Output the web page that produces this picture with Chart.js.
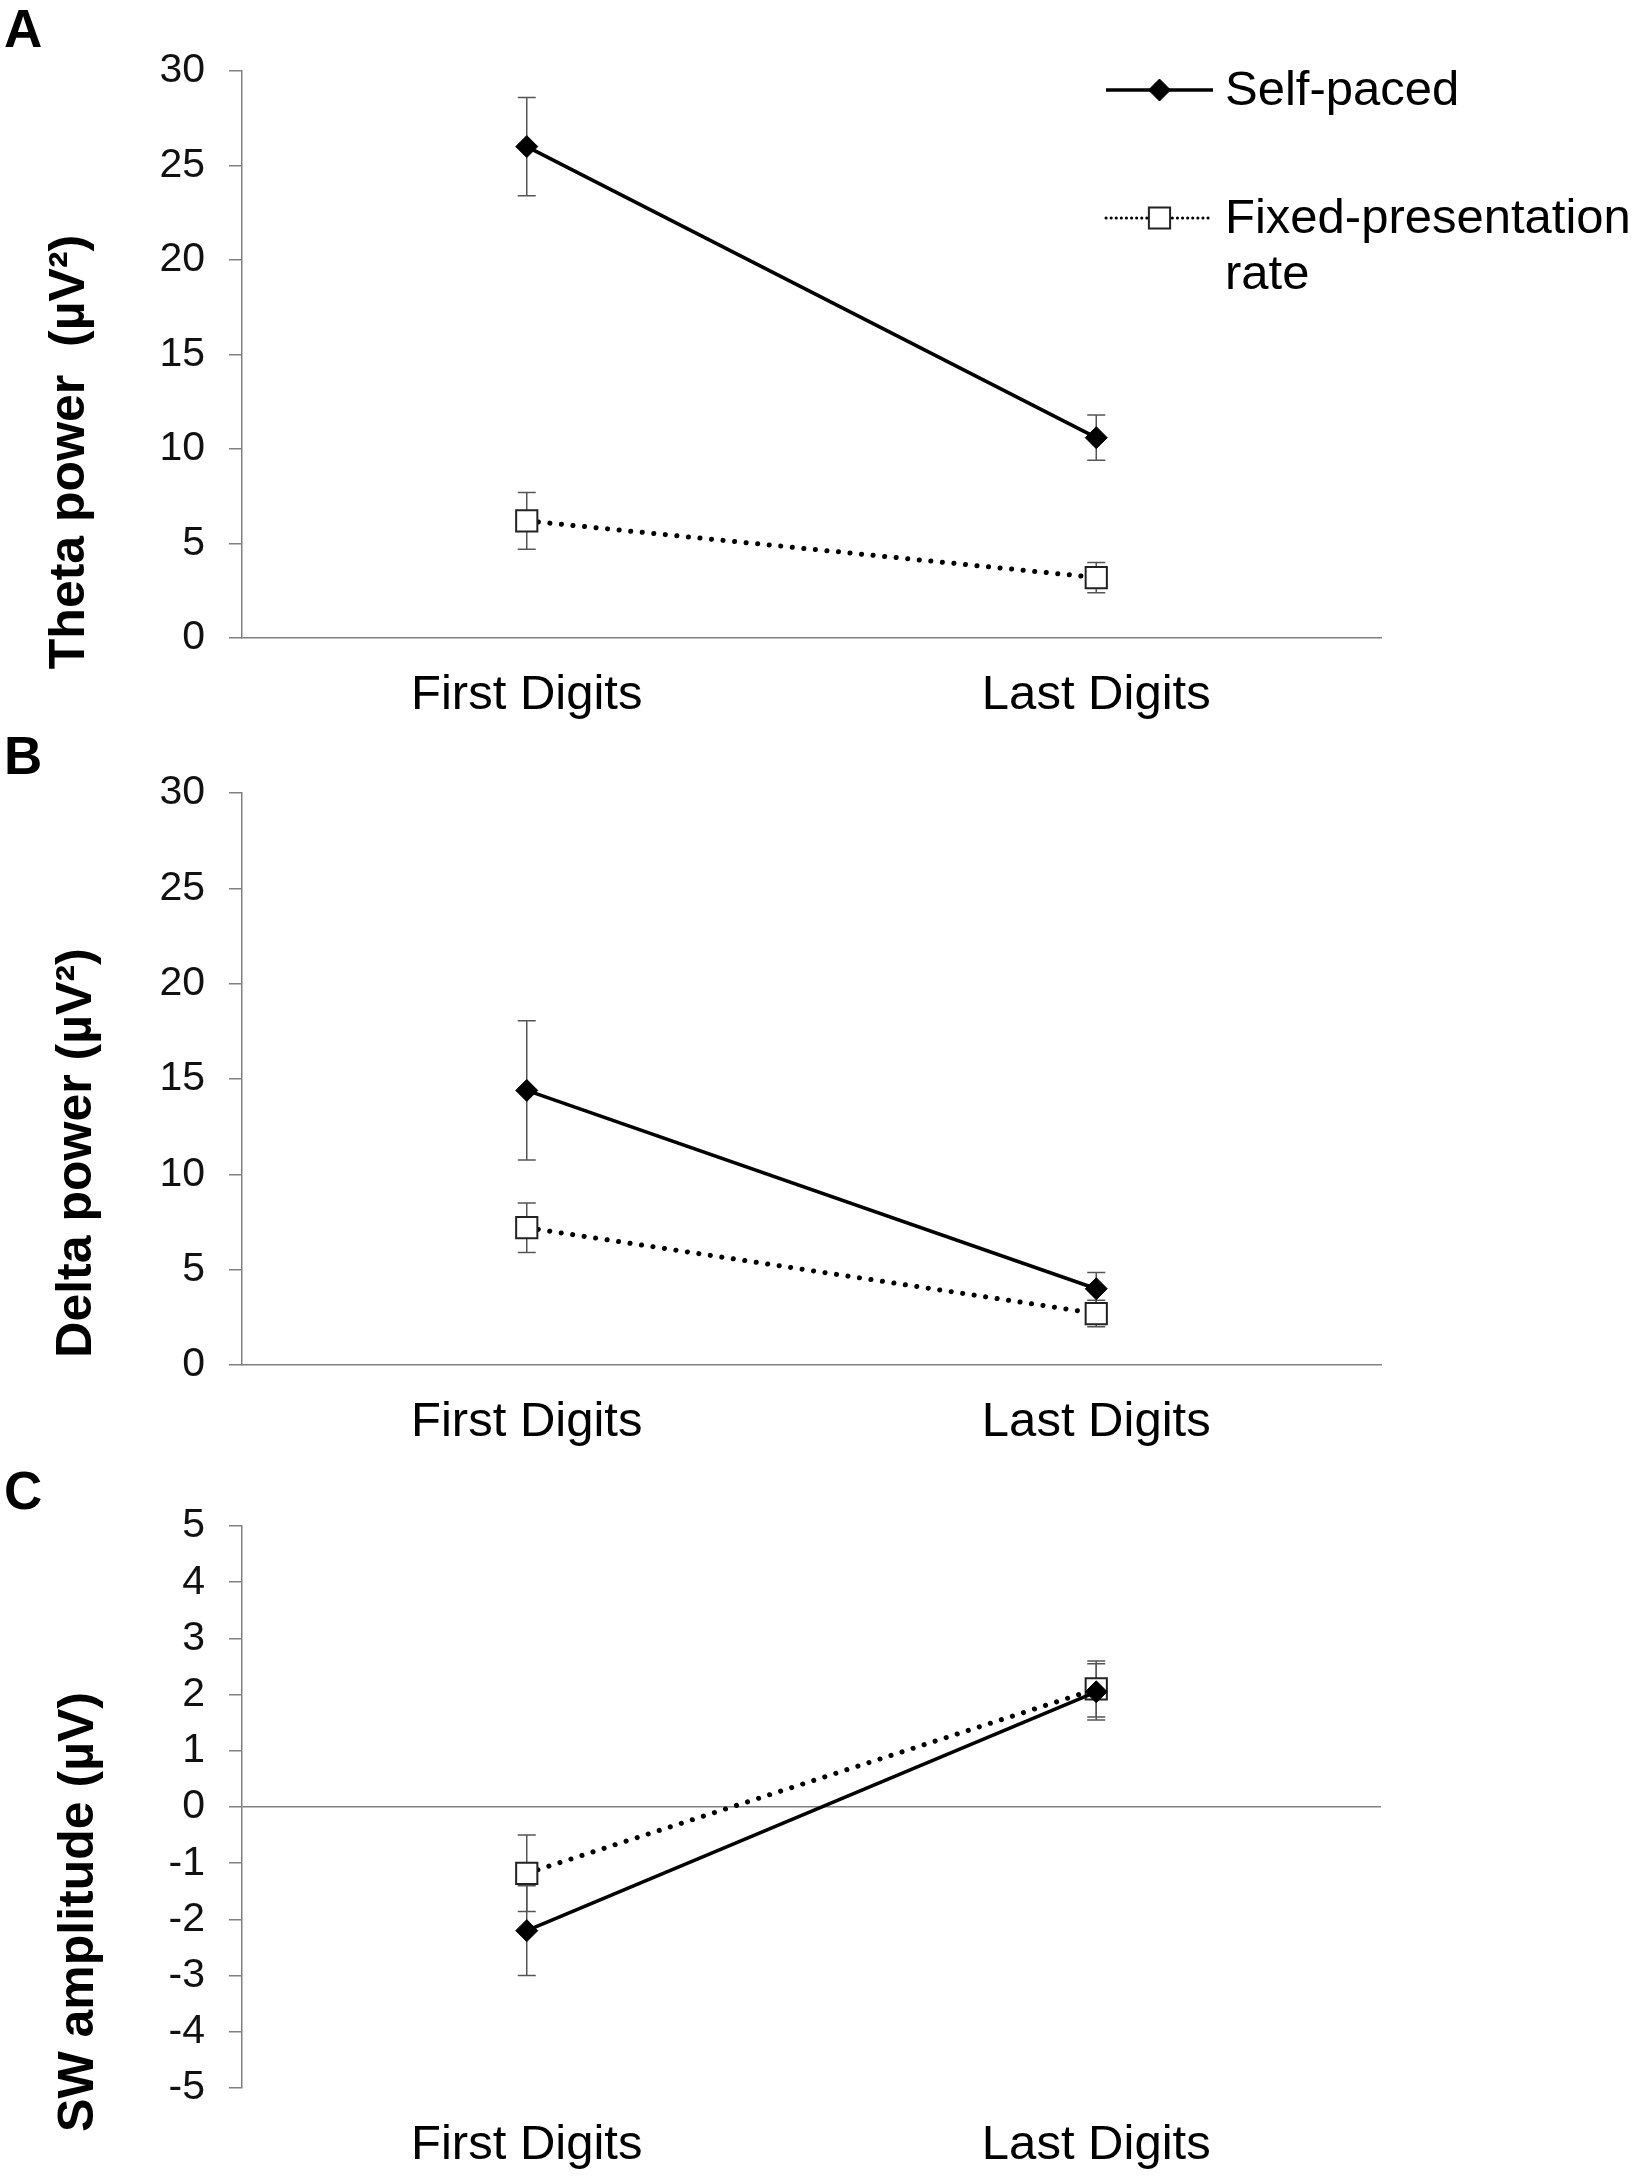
<!DOCTYPE html>
<html lang="en">
<head>
<meta charset="UTF-8">
<title>Theta, delta and SW amplitude</title>
<script src="https://cdn.jsdelivr.net/npm/chart.js@4.4.0/dist/chart.umd.min.js"></script>
<style>
  body { margin: 0; background: #fff; width: 1639px; height: 2180px; position: relative; overflow: hidden; }
  canvas { position: absolute; left: 0; }
  .panel { position: absolute; left: 4px; font: bold 53px "Liberation Sans", Arial, sans-serif; line-height: 1; color: #000; }
</style>
</head>
<body>
<canvas id="chartA" width="1639" height="730" style="top:0px"></canvas>
<canvas id="chartB" width="1639" height="720" style="top:730px"></canvas>
<canvas id="chartC" width="1639" height="730" style="top:1450px"></canvas>
<div class="panel" style="top:2px">A</div>
<div class="panel" style="top:729px">B</div>
<div class="panel" style="top:1464px">C</div>

<script>
// data
const categories = ['First Digits', 'Last Digits'];
const seriesNames = ['Self-paced', 'Fixed-presentation rate'];

const thetaSelf = [26.0, 10.6];
const thetaSelfErr = [2.6, 1.2];
const thetaFixed = [6.2, 3.2];
const thetaFixedErr = [1.5, 0.8];

const deltaSelf = [14.4, 4.0];
const deltaSelfErr = [3.65, 0.85];
const deltaFixed = [7.2, 2.7];
const deltaFixedErr = [1.3, 0.7];

const swSelf = [-2.2, 2.05];
const swSelfErr = [0.8, 0.5];
const swFixed = [-1.18, 2.1];
const swFixedErr = [0.68, 0.5];

const powerTicks = [0, 30, 5];   // min, max, step
const swTicks = [-5, 5, 1];

const FONT = '"Liberation Sans", Arial, sans-serif';
const AXIS = '#808080';
Chart.defaults.font.family = FONT;
Chart.defaults.color = '#111';

// vertical error bars, drawn under the markers
const errorBars = {
  id: 'errorBars',
  beforeDatasetsDraw(chart) {
    const ctx = chart.ctx, y = chart.scales.y;
    ctx.save();
    ctx.strokeStyle = '#555';
    ctx.lineWidth = 1.5;
    chart.data.datasets.forEach((ds, i) => {
      chart.getDatasetMeta(i).data.forEach((pt, j) => {
        const top = y.getPixelForValue(ds.data[j] + ds.errors[j]);
        const bot = y.getPixelForValue(ds.data[j] - ds.errors[j]);
        ctx.beginPath();
        ctx.moveTo(pt.x, top); ctx.lineTo(pt.x, bot);
        ctx.moveTo(pt.x - 9, top); ctx.lineTo(pt.x + 9, top);
        ctx.moveTo(pt.x - 9, bot); ctx.lineTo(pt.x + 9, bot);
        ctx.stroke();
      });
    });
    ctx.restore();
  }
};

// rotated y title, placed where the figure has it
const axisTitle = {
  id: 'axisTitle',
  afterDraw(chart, args, opts) {
    const ctx = chart.ctx;
    ctx.save();
    ctx.translate(opts.x, opts.y);
    ctx.rotate(-Math.PI / 2);
    ctx.font = 'bold 50px ' + FONT;
    ctx.fillStyle = '#000';
    ctx.textAlign = 'center';
    ctx.textBaseline = 'middle';
    ctx.fillText(opts.text, 0, 0);
    ctx.restore();
  }
};

// legend in the upper right of panel A
const sideLegend = {
  id: 'sideLegend',
  afterDraw(chart, args, opts) {
    const ctx = chart.ctx;
    opts.items.forEach(item => {
      const ds = chart.data.datasets[item.index];
      ctx.save();
      ctx.strokeStyle = ds.borderColor;
      ctx.lineWidth = item.lineWidth;
      ctx.lineCap = item.dash.length ? 'round' : 'butt';
      ctx.setLineDash(item.dash);
      ctx.beginPath();
      ctx.moveTo(opts.x0, item.y);
      ctx.lineTo(opts.x1, item.y);
      ctx.stroke();
      ctx.setLineDash([]);
      ctx.fillStyle = ds.pointBackgroundColor;
      ctx.strokeStyle = ds.pointBorderColor;
      ctx.lineWidth = ds.pointBorderWidth;
      Chart.helpers.drawPoint(ctx, {
        pointStyle: ds.pointStyle, radius: ds.pointRadius, rotation: 0, borderWidth: ds.pointBorderWidth
      }, (opts.x0 + opts.x1) / 2, item.y);

      ctx.font = '49px ' + FONT;
      ctx.fillStyle = '#000';
      ctx.textBaseline = 'middle';
      // wrap label into lines that fit
      const words = ds.label.split(' ');
      const lines = [];
      let cur = '';
      words.forEach(w => {
        const t = cur ? cur + ' ' + w : w;
        if (cur && ctx.measureText(t).width > opts.maxWidth) { lines.push(cur); cur = w; }
        else cur = t;
      });
      lines.push(cur);
      lines.forEach((l, k) => ctx.fillText(l, opts.textX, item.y + 1 + k * 56));
      ctx.restore();
    });
  }
};

function datasets(selfVals, selfErr, fixedVals, fixedErr) {
  return [
    {
      label: seriesNames[0],
      data: selfVals,
      errors: selfErr,
      borderColor: '#000',
      borderWidth: 3.5,
      pointStyle: 'rectRot',
      pointRadius: 11,
      pointBackgroundColor: '#000',
      pointBorderColor: '#000',
      pointBorderWidth: 1
    },
    {
      label: seriesNames[1],
      data: fixedVals,
      errors: fixedErr,
      borderColor: '#000',
      borderWidth: 5,
      borderDash: [0.1, 11.5],
      borderCapStyle: 'round',
      pointStyle: 'rect',
      pointRadius: 15,
      pointBackgroundColor: '#fff',
      pointBorderColor: '#222',
      pointBorderWidth: 2
    }
  ];
}

function makeChart(id, ds, ticks, opts) {
  return new Chart(document.getElementById(id), {
    type: 'line',
    data: { labels: categories, datasets: ds },
    plugins: [errorBars, axisTitle].concat(opts.legend ? [sideLegend] : []),
    options: {
      responsive: false,
      animation: false,
      devicePixelRatio: 1,
      layout: { padding: { top: opts.top, right: 258, left: 0, bottom: 0 } },
      plugins: {
        legend: { display: false },
        tooltip: { enabled: false },
        axisTitle: opts.title,
        sideLegend: opts.legend
      },
      scales: {
        x: {
          offset: true,
          afterFit(scale) { scale.height = opts.xHeight; },
          grid: { display: false, drawTicks: false },
          border: { display: opts.xBorder, color: AXIS, width: 1.5 },
          ticks: { padding: 28, font: { size: 49 }, color: '#000' }
        },
        y: {
          min: ticks[0],
          max: ticks[1],
          afterFit(scale) { scale.width = 242; },
          grid: {
            drawOnChartArea: !!opts.zeroLine,
            color: c => (opts.zeroLine && c.tick && c.tick.value === 0) ? AXIS : 'rgba(0,0,0,0)',
            lineWidth: 1.5,
            tickColor: AXIS,
            tickWidth: 1.5,
            tickLength: 13
          },
          border: { color: AXIS, width: 1.5 },
          ticks: { stepSize: ticks[2], padding: 24, font: { size: 41 }, color: '#111' }
        }
      }
    }
  });
}

makeChart('chartA', datasets(thetaSelf, thetaSelfErr, thetaFixed, thetaFixedErr), powerTicks, {
  top: 71, xHeight: 92, xBorder: true,
  title: { text: 'Theta power  (\u00b5V\u00b2)', x: 70, y: 452 },
  legend: {
    x0: 1106, x1: 1213, textX: 1225, maxWidth: 412,
    items: [
      { index: 0, y: 90, lineWidth: 3.5, dash: [] },
      { index: 1, y: 218, lineWidth: 3, dash: [0.1, 5] }
    ]
  }
});

makeChart('chartB', datasets(deltaSelf, deltaSelfErr, deltaFixed, deltaFixedErr), powerTicks, {
  top: 63, xHeight: 85, xBorder: true,
  title: { text: 'Delta power (\u00b5V\u00b2)', x: 77, y: 423 }
});

makeChart('chartC', datasets(swSelf, swSelfErr, swFixed, swFixedErr), swTicks, {
  top: 76, xHeight: 92, xBorder: false, zeroLine: true,
  title: { text: 'SW amplitude (\u00b5V)', x: 79, y: 462 }
});
</script>
</body>
</html>
